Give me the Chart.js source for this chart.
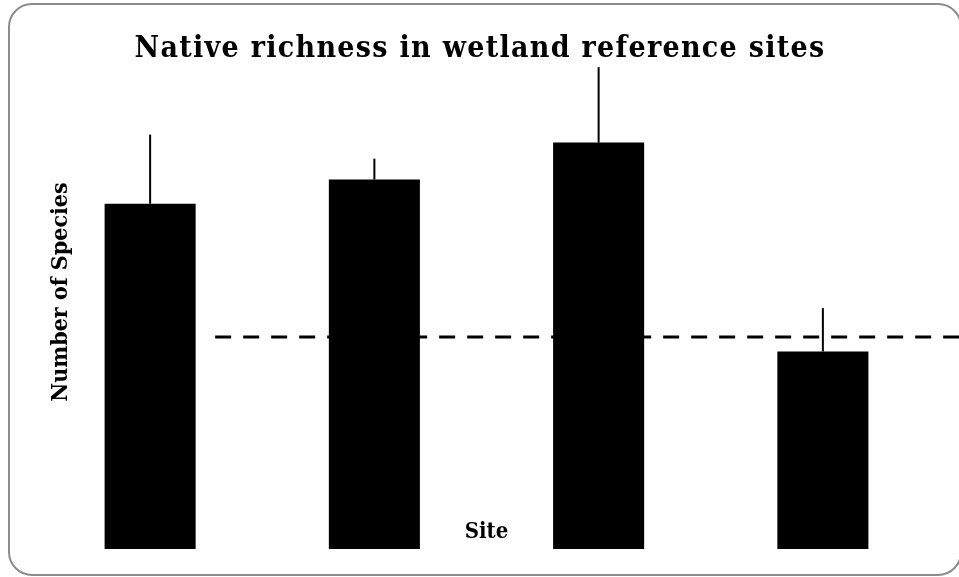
<!DOCTYPE html>
<html>
<head>
<meta charset="utf-8">
<title>Native richness in wetland reference sites</title>
<script src="https://cdn.jsdelivr.net/npm/chart.js@4.4.0/dist/chart.umd.min.js"></script>
<style>
  html, body { margin: 0; padding: 0; background: #fff; }
  #frame { position: relative; width: 959px; height: 577px; overflow: hidden; }
  #frame .box {
    position: absolute; left: 8px; top: 3px; width: 954px; height: 573px;
    box-sizing: border-box; border: 2px solid #8c8c8c; border-radius: 24px;
  }
  #richness { position: absolute; left: 0; top: 0; }
</style>
</head>
<body>
<div id="frame">
  <div class="box"></div>
  <canvas id="richness" width="959" height="577"></canvas>
</div>
<script>
// sites (no tick labels are shown)
const siteLabels = ["1", "2", "3", "4"];
// mean native species per site
const meanRichness = [21.5, 23.0, 25.3, 12.3];
// upper error (added on top of the mean)
const errorUpper = [4.3, 1.3, 4.7, 2.7];
// reference level for the dashed line, and where it starts (in site units)
const referenceRichness = 13.2;
const referenceStart = 0.29;

const chartTitle = "Native richness in wetland reference sites";
const xTitle = "Site";
const yTitle = "Number of Species";

const serif = '"DejaVu Serif Condensed", "DejaVu Serif", serif';

// thin upward error lines from each bar top
const errorBarPlugin = {
    id: "errorBars",
    afterDatasetsDraw(chart) {
        const ctx = chart.ctx;
        const yScale = chart.scales.y;
        const meta = chart.getDatasetMeta(0);
        ctx.save();
        ctx.strokeStyle = "#000";
        ctx.lineWidth = 2;
        meta.data.forEach((bar, i) => {
            ctx.beginPath();
            ctx.moveTo(bar.x, yScale.getPixelForValue(meanRichness[i]));
            ctx.lineTo(bar.x, yScale.getPixelForValue(meanRichness[i] + errorUpper[i]));
            ctx.stroke();
        });
        ctx.restore();
    }
};

// dashed reference line, runs out to the right edge
const referenceLinePlugin = {
    id: "referenceLine",
    afterDatasetsDraw(chart) {
        const ctx = chart.ctx;
        const y = Math.round(chart.scales.y.getPixelForValue(referenceRichness));
        const x0 = chart.scales.x.getPixelForValue(referenceStart);
        ctx.save();
        ctx.strokeStyle = "#000";
        ctx.lineWidth = 3;
        ctx.setLineDash([16, 12]);
        ctx.beginPath();
        ctx.moveTo(x0, y);
        ctx.lineTo(chart.width, y);
        ctx.stroke();
        ctx.restore();
    }
};

// title and axis titles
const labelsPlugin = {
    id: "titles",
    afterDraw(chart) {
        const ctx = chart.ctx;
        const area = chart.chartArea;
        ctx.save();
        ctx.fillStyle = "#000";
        ctx.textAlign = "center";
        ctx.textBaseline = "alphabetic";

        ctx.font = "bold 30px " + serif;
        ctx.letterSpacing = "1.3px";
        ctx.fillText(chartTitle, 480, 57);
        ctx.letterSpacing = "0px";

        ctx.font = "bold 22px " + serif;
        ctx.fillText(xTitle, (area.left + area.right) / 2, 538);

        ctx.font = "bold 23px " + serif;
        ctx.translate(67, (area.top + area.bottom) / 2);
        ctx.rotate(-Math.PI / 2);
        ctx.fillText(yTitle, 0, 0);
        ctx.restore();
    }
};

new Chart(document.getElementById("richness").getContext("2d"), {
    type: "bar",
    data: {
        labels: siteLabels,
        datasets: [{
            data: meanRichness,
            backgroundColor: "#000",
            borderWidth: 0,
            barPercentage: 0.406,
            categoryPercentage: 1.0
        }]
    },
    options: {
        responsive: false,
        animation: false,
        devicePixelRatio: 1,
        layout: { padding: { left: 38, right: 24, top: 35, bottom: 28 } },
        plugins: {
            legend: { display: false },
            tooltip: { enabled: false }
        },
        scales: {
            x: { display: false, offset: true },
            y: { display: false, min: 0, max: 32 }
        }
    },
    plugins: [errorBarPlugin, referenceLinePlugin, labelsPlugin]
});
</script>
</body>
</html>
